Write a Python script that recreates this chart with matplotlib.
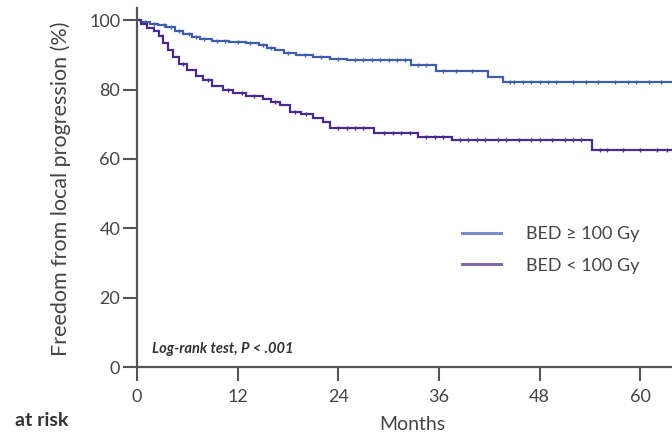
import matplotlib
matplotlib.use("Agg")
import matplotlib.pyplot as plt
import numpy as np

plt.rcParams['font.family'] = ['Lato', 'DejaVu Sans']

# Kaplan-Meier step data (months, % free from local progression)
hi_t = [0, 0.5, 1.5, 2.5, 3.5, 4.5, 5.5, 6.5, 7.5, 9, 11, 13, 14.5, 15.5, 16.5, 17.5, 19, 21, 23, 25, 32.7, 35.7, 41.8, 43.6, 63.8]
hi_s = [100, 99.5, 99, 98.6, 98, 97, 96, 95.2, 94.5, 94, 93.7, 93.3, 92.8, 92, 91.3, 90.5, 90, 89.3, 88.8, 88.5, 87, 85.3, 83.6, 82.1, 82.1]
hi_cens = [1, 2, 3.2, 4, 5, 6.2, 7, 8, 9.5, 10.5, 12, 13.5, 15, 16, 18, 20, 22, 24, 26, 27, 28, 29, 30, 31, 32, 33.5, 34.5, 36.5, 38, 40, 44.5, 45, 46, 47, 48, 49, 50, 52, 53.5, 55, 57, 58.5, 59.5, 61, 62.5]

lo_t = [0, 0.5, 1.2, 2.0, 2.6, 3.1, 3.7, 4.3, 5.0, 6.0, 7.0, 7.9, 9.0, 10.2, 11.5, 13.0, 15.0, 16.0, 17.0, 18.2, 19.5, 21.0, 22.2, 23.0, 28.3, 33.5, 37.6, 54.3, 63.8]
lo_s = [100, 99, 97.7, 96.8, 95.5, 93.4, 91.3, 89.3, 87.4, 85.6, 84.0, 82.7, 81.0, 79.8, 79.0, 78.0, 77.3, 76.5, 75.5, 73.5, 72.8, 71.8, 70.5, 69.0, 67.4, 66.3, 65.5, 62.5, 62.5]
lo_cens = [3, 5.5, 8.5, 10.8, 12.5, 14, 16.5, 18.8, 20.2, 24, 25, 26, 27, 29.5, 30.5, 31.5, 32.5, 34.5, 35.5, 36.5, 38.5, 39.5, 40.5, 41.5, 43, 44, 45.5, 47, 48, 49.5, 51, 52, 53, 55.2, 56, 58, 60, 62, 63.2]

labels = ["BED \u2265 100 Gy", "BED < 100 Gy"]
colors = ["#3f5fae", "#4a2a92"]
x_ticks = [0, 12, 24, 36, 48, 60]
y_ticks = [0, 20, 40, 60, 80, 100]

fig = plt.figure(figsize=(6.72, 4.34), dpi=100)
ax = fig.add_axes([137/672, 1 - 367/434, 1 - 137/672, (367 - 8)/434])

def step_at(ts, ss, x):
    idx = np.searchsorted(ts, x, side='right') - 1
    return np.array(ss)[idx]

for t, s, c, col, lab in [(hi_t, hi_s, hi_cens, colors[0], labels[0]),
                          (lo_t, lo_s, lo_cens, colors[1], labels[1])]:
    ax.step(t, s, where='post', color=col, lw=1.6, label=lab, solid_joinstyle='miter')
    ax.plot(c, step_at(t, s, c), linestyle='none', marker='|', ms=3.5, mew=1.0, color=col)

ax.set_xlim(0, 63.8)
ax.set_ylim(0, 103.5)
ax.set_xticks(x_ticks)
ax.set_yticks(y_ticks)
for sp in ['top', 'right']:
    ax.spines[sp].set_visible(False)
for sp in ['left', 'bottom']:
    ax.spines[sp].set_color('#555555')
    ax.spines[sp].set_linewidth(1.6)
ax.tick_params(axis='both', direction='out', length=10, width=1.5, colors='#555555',
               labelsize=13, labelcolor='#444444')
ax.tick_params(axis='x', pad=6)
ax.tick_params(axis='y', pad=2)

ax.set_ylabel("Freedom from local progression (%)", fontsize=15.5, color='#444444')
ax.yaxis.set_label_coords(-0.123, 0.496)
ax.text(0.028, 0.039, "Log-rank test, P < .001", transform=ax.transAxes,
        fontsize=10.5, fontstyle='italic', fontweight='bold', color='#333333')
fig.text(412/672, 1 - 425/434, "Months", ha='center', va='center', fontsize=14, color='#444444')
fig.text(15/672, 1 - 420/434, "at risk", ha='left', va='center', fontsize=14, fontweight='bold', color='#333333')

leg = ax.legend(loc='upper left', bbox_to_anchor=(0.607, 0.392), frameon=False,
                borderaxespad=0, borderpad=0,
                handlelength=2.15, handletextpad=1.4, labelspacing=0.85, fontsize=13)
for txt in leg.get_texts():
    txt.set_color('#444444')
for h in leg.get_lines():
    h.set_alpha(0.7)
    h.set_linewidth(2.2)

fig.savefig("out.png", dpi=100)
